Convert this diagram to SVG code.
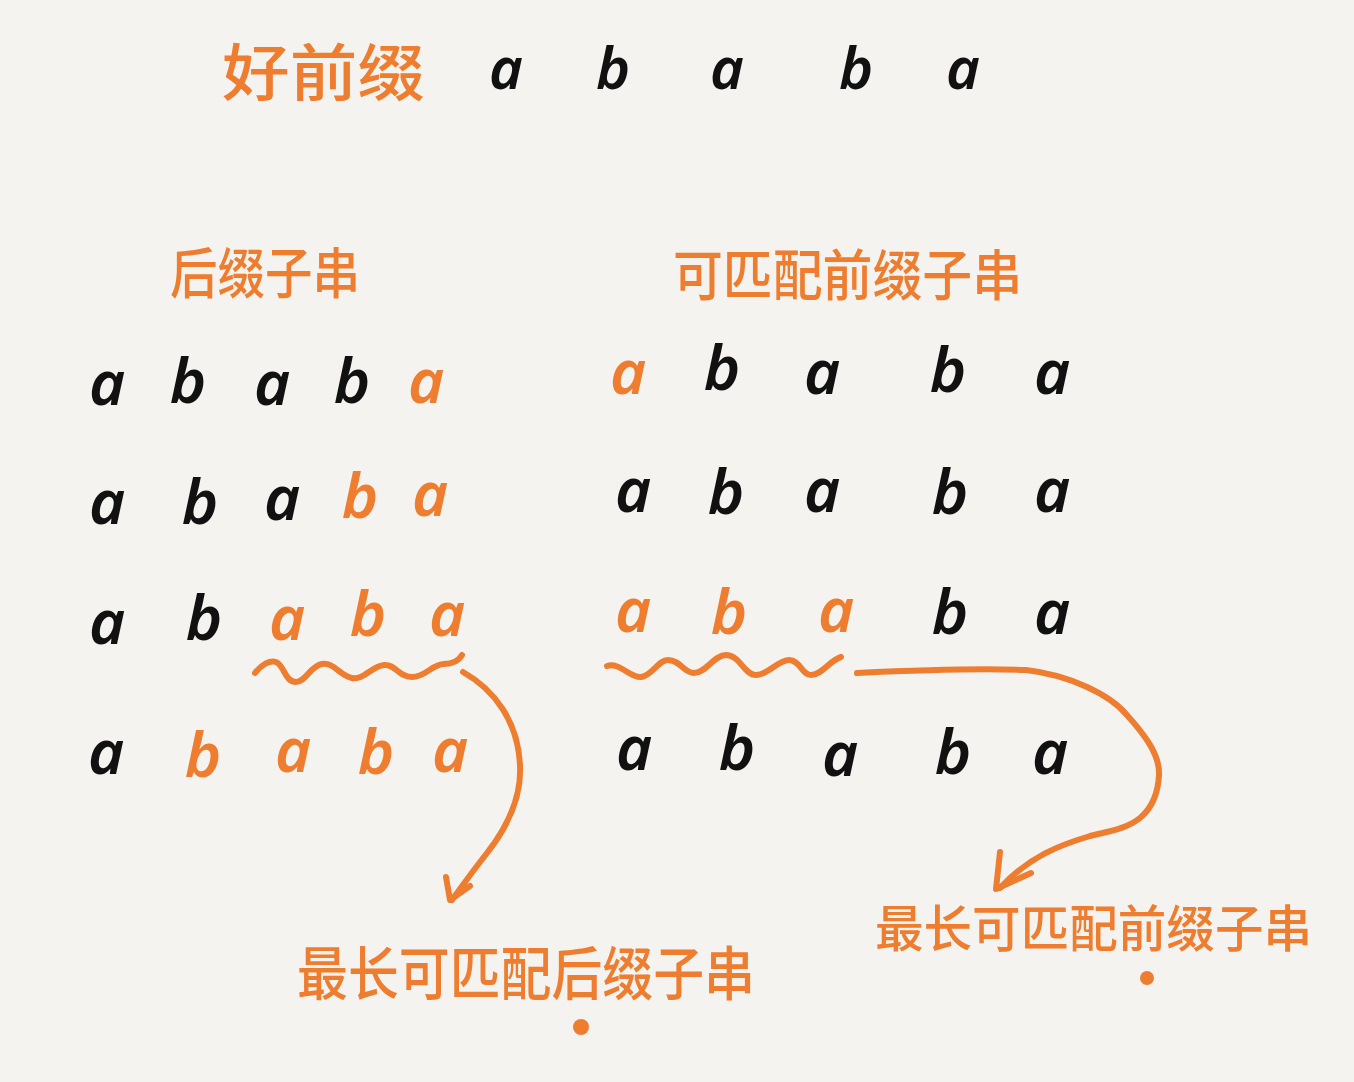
<svg xmlns="http://www.w3.org/2000/svg" width="1354" height="1082" viewBox="0 0 1354 1082">
<style>
.l{font-family:"Noto Sans","Open Sans",sans-serif;font-style:italic;font-weight:600;font-size:62px;text-anchor:middle;fill:#111}
.t{font-size:58px}
.o{fill:#ef7d2f}
.c{font-family:"Noto Sans CJK SC","Noto Sans",sans-serif;font-weight:500;fill:#ef7d2f}
.s{fill:none;stroke:#ef7d2f;stroke-width:6;stroke-linecap:round;stroke-linejoin:round}
</style>
<rect width="1354" height="1082" fill="#f4f3ef"/>
<g id="title">
<text class="c" x="222" y="96" font-size="62" textLength="203" lengthAdjust="spacingAndGlyphs">好前缀</text>
<text class="l t" x="506" y="89">a</text><text class="l t" x="613" y="89">b</text><text class="l t" x="727" y="89">a</text><text class="l t" x="856" y="89">b</text><text class="l t" x="963" y="89">a</text>
</g>
<g id="suffix-heading"><text class="c" x="170" y="293" font-size="55" textLength="190" lengthAdjust="spacingAndGlyphs">后缀子串</text></g>
<g id="prefix-heading"><text class="c" x="673" y="295" font-size="55" textLength="349" lengthAdjust="spacingAndGlyphs">可匹配前缀子串</text></g>
<g id="left-row1"><text class="l" x="107" y="405">a</text><text class="l" x="188" y="403">b</text><text class="l" x="272" y="405">a</text><text class="l" x="352" y="403">b</text><text class="l o" x="426" y="403">a</text></g>
<g id="left-row2"><text class="l" x="107" y="524">a</text><text class="l" x="200" y="524">b</text><text class="l" x="282" y="520">a</text><text class="l o" x="360" y="518">b</text><text class="l o" x="430" y="516">a</text></g>
<g id="left-row3"><text class="l" x="107" y="644">a</text><text class="l" x="204" y="640">b</text><text class="l o" x="287" y="640">a</text><text class="l o" x="368" y="636">b</text><text class="l o" x="447" y="636">a</text></g>
<g id="left-row4"><text class="l" x="106" y="774">a</text><text class="l o" x="203" y="777">b</text><text class="l o" x="293" y="772">a</text><text class="l o" x="376" y="774">b</text><text class="l o" x="450" y="772">a</text></g>
<g id="right-row1"><text class="l o" x="628" y="394">a</text><text class="l" x="722" y="390">b</text><text class="l" x="822" y="394">a</text><text class="l" x="948" y="392">b</text><text class="l" x="1052" y="394">a</text></g>
<g id="right-row2"><text class="l" x="633" y="512">a</text><text class="l" x="726" y="514">b</text><text class="l" x="822" y="512">a</text><text class="l" x="950" y="514">b</text><text class="l" x="1052" y="512">a</text></g>
<g id="right-row3"><text class="l o" x="633" y="632">a</text><text class="l o" x="729" y="634">b</text><text class="l o" x="836" y="632">a</text><text class="l" x="950" y="634">b</text><text class="l" x="1052" y="634">a</text></g>
<g id="right-row4"><text class="l" x="634" y="770">a</text><text class="l" x="737" y="770">b</text><text class="l" x="840" y="776">a</text><text class="l" x="953" y="774">b</text><text class="l" x="1050" y="774">a</text></g>
<g id="connectors">
<path class="s" d="M255 673 C262 664 270 660 276 662 C284 665 285 682 296 682 C306 682 310 666 322 664 C334 662 340 676 352 678 C364 680 372 666 384 665 C396 664 398 677 412 677 C426 677 432 664 444 664 C452 664 458 662 462 655"/>
<path class="s" d="M463 672 C495 690 518 722 520 765 C522 800 505 830 487 853 C472 872 462 886 452 900"/>
<path class="s" d="M446 877 L450 900 L470 886"/>
<path class="s" d="M607 666 C620 662 630 678 641 677 C652 676 658 660 668 660 C680 660 684 673 694 673 C706 673 714 655 726 655 C740 655 744 675 756 675 C768 675 778 660 789 660 C800 660 802 675 811 675 C822 675 830 660 841 657"/>
<path class="s" d="M857 673 C920 670 980 668 1026 670 C1070 675 1110 695 1126 714 C1145 735 1160 755 1159 775 C1158 795 1152 808 1140 818 C1125 830 1105 832 1090 836 C1060 845 1030 856 1000 888"/>
<path class="s" d="M1000 852 L996 889 L1031 873"/>
</g>
<g id="label-suffix">
<text class="c" x="297" y="995" font-size="58" textLength="458" lengthAdjust="spacingAndGlyphs">最长可匹配后缀子串</text>
<circle cx="581" cy="1027" r="8" fill="#ef7d2f"/>
</g>
<g id="label-prefix">
<text class="c" x="875" y="947" font-size="50" textLength="437" lengthAdjust="spacingAndGlyphs">最长可匹配前缀子串</text>
<circle cx="1147" cy="978" r="7" fill="#ef7d2f"/>
</g>
</svg>
